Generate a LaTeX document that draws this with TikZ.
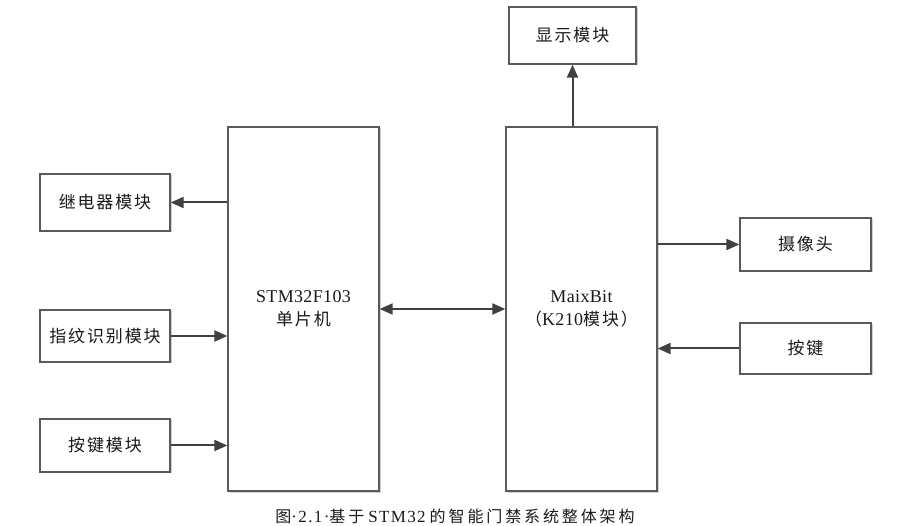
\documentclass[tikz,border=0pt]{standalone}
\usepackage{fontspec}
\setmainfont{Liberation Serif}
\newfontfamily\cjk{Noto Sans CJK SC}[LetterSpace=11]
\newfontfamily\lat{Liberation Serif}[LetterSpace=2]
\newfontfamily\capcjk{Noto Sans CJK SC}[LetterSpace=18]
\newfontfamily\caplat{Liberation Serif}[LetterSpace=8]
\usetikzlibrary{arrows.meta,shadows}
\definecolor{boxline}{HTML}{5A5A5A}
\definecolor{arrowc}{HTML}{404040}
\definecolor{txt}{HTML}{1A1A1A}
\newcommand{\latbig}{\lat\fontsize{18}{23}\selectfont}
\begin{document}
\begin{tikzpicture}[x=1pt,y=-1pt,
  modbox/.style={draw=boxline,line width=1.3pt,fill=white,rectangle,inner sep=0pt,
    text=txt,font=\fontsize{17}{23}\selectfont,align=center,
    drop shadow={shadow xshift=1.5pt,shadow yshift=-1.5pt,fill=black!18,opacity=1}},
  conn/.style={draw=arrowc,line width=2pt,-{Triangle[length=13pt,width=11pt]}},
  biconn/.style={draw=arrowc,line width=2pt,{Triangle[length=13pt,width=11pt]}-{Triangle[length=13pt,width=11pt]}}
]
\useasboundingbox[fill=white] (0,0) rectangle (916,526);
% left column
\node[modbox,minimum width=130pt,minimum height=57pt] (relay) at (105,202.5) {\cjk 继电器模块};
\node[modbox,minimum width=130pt,minimum height=52pt] (finger) at (105,336) {\cjk 指纹识别模块};
\node[modbox,minimum width=130pt,minimum height=53pt] (key) at (105,445.5) {\cjk 按键模块};
% main boards
\node[modbox,minimum width=151pt,minimum height=364pt] (stm) at (303.5,309) {{\latbig STM32F103}\\{\cjk 单片机}};
\node[modbox,minimum width=151pt,minimum height=364pt] (maix) at (581.5,309) {{\latbig MaixBit}\\{\cjk （}{\latbig K210}{\cjk 模块）}};
% right side
\node[modbox,minimum width=127pt,minimum height=57pt] (disp) at (572.5,35.5) {\cjk 显示模块};
\node[modbox,minimum width=131pt,minimum height=53pt] (cam) at (805.5,244.5) {\cjk 摄像头};
\node[modbox,minimum width=131pt,minimum height=51pt] (btn) at (805.5,348.5) {\cjk 按键};
% connectors
\draw[conn] (stm.west |- relay.east) -- (relay.east);
\draw[conn] (finger.east) -- (stm.west |- finger.east);
\draw[conn] (key.east) -- (stm.west |- key.east);
\draw[biconn] (stm.east) -- (maix.west);
\draw[conn] (maix.north -| disp.south) -- (disp.south);
\draw[conn] (maix.east |- cam.west) -- (cam.west);
\draw[conn] (btn.west) -- (maix.east |- btn.west);
% caption
\node[text=txt,font=\fontsize{16}{18}\selectfont,inner sep=0pt] (cap) at (455,516)
  {{\capcjk 图}{\caplat\fontsize{17}{18}\selectfont ·2.1·}{\capcjk 基于} {\caplat\fontsize{17}{18}\selectfont STM32} {\capcjk 的智能门禁系统整体架构}};
\end{tikzpicture}
\end{document}
